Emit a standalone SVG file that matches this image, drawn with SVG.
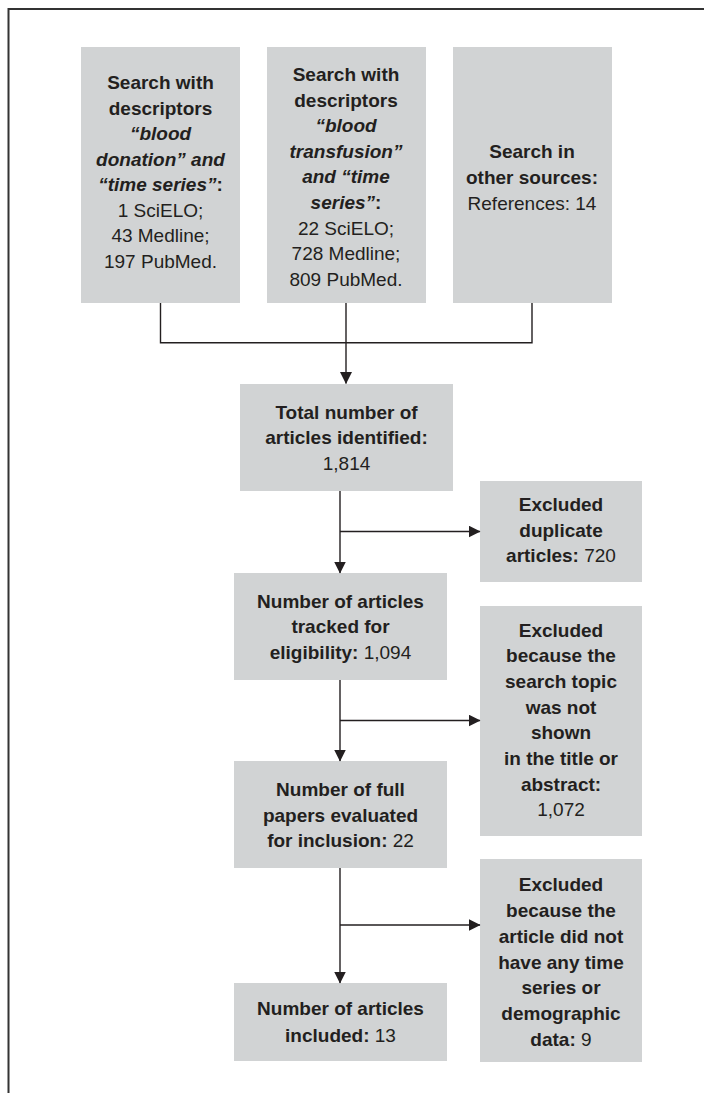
<svg xmlns="http://www.w3.org/2000/svg" width="704" height="1093" viewBox="0 0 704 1093">
<style>
.box{fill:#d1d3d4;stroke:none}
text{font-family:"Liberation Sans",Arial,sans-serif;font-size:19px;fill:#231f20;text-anchor:middle}
.b{font-weight:bold}
.bi{font-weight:bold;font-style:italic}
.r{font-weight:normal;font-style:normal}
.con{fill:none;stroke:#231f20;stroke-width:1.4}
</style>
<defs>
<marker id="arr" markerUnits="userSpaceOnUse" markerWidth="12" markerHeight="12" viewBox="0 0 12 12" refX="11.5" refY="6" orient="auto">
<path d="M0,0 L12,6 L0,12 Z" fill="#231f20"/>
</marker>
</defs>
<path d="M8.5,1093 V9 H704" fill="none" stroke="#333" stroke-width="2"/>

<g id="box1">
<rect class="box" x="81" y="47" width="159" height="256"/>
<text x="160.5" y="89" class="b">Search with</text>
<text x="160.5" y="114.5" class="b">descriptors</text>
<text x="160.5" y="140" class="bi">“blood</text>
<text x="160.5" y="165.5" class="bi">donation” and</text>
<text x="160.5" y="191" class="bi">“time series”<tspan style="font-style:normal">:</tspan></text>
<text x="160.5" y="216.5">1 SciELO;</text>
<text x="160.5" y="242">43 Medline;</text>
<text x="160.5" y="267.5">197 PubMed.</text>
</g>

<g id="box2">
<rect class="box" x="267" y="47" width="159" height="256"/>
<text x="346" y="81" class="b">Search with</text>
<text x="346" y="106.6" class="b">descriptors</text>
<text x="346" y="132.2" class="bi">“blood</text>
<text x="346" y="157.8" class="bi">transfusion”</text>
<text x="346" y="183.4" class="bi">and “time</text>
<text x="346" y="209" class="bi">series”<tspan style="font-style:normal">:</tspan></text>
<text x="346" y="234.6">22 SciELO;</text>
<text x="346" y="260.2">728 Medline;</text>
<text x="346" y="285.8">809 PubMed.</text>
</g>

<g id="box3">
<rect class="box" x="453" y="47" width="159" height="256"/>
<text x="532" y="158" class="b">Search in</text>
<text x="532" y="184" class="b">other sources:</text>
<text x="532" y="209.5">References: 14</text>
</g>

<g id="total">
<rect class="box" x="240" y="384" width="213" height="107"/>
<text x="346.5" y="418.5" class="b">Total number of</text>
<text x="346.5" y="444.3" class="b">articles identified:</text>
<text x="346.5" y="470">1,814</text>
</g>

<g id="excl-dup">
<rect class="box" x="480" y="481" width="162" height="101"/>
<text x="561" y="511" class="b">Excluded</text>
<text x="561" y="537" class="b">duplicate</text>
<text x="561" y="562"><tspan class="b">articles:</tspan> 720</text>
</g>

<g id="tracked">
<rect class="box" x="234" y="573" width="213" height="107"/>
<text x="340.5" y="607.7" class="b">Number of articles</text>
<text x="340.5" y="633.3" class="b">tracked for</text>
<text x="340.5" y="658.7"><tspan class="b">eligibility:</tspan> 1,094</text>
</g>

<g id="excl-topic">
<rect class="box" x="480" y="606" width="162" height="230"/>
<text x="561" y="636.7" class="b">Excluded</text>
<text x="561" y="662.3" class="b">because the</text>
<text x="561" y="688" class="b">search topic</text>
<text x="561" y="713.7" class="b">was not</text>
<text x="561" y="739.4" class="b">shown</text>
<text x="561" y="765" class="b">in the title or</text>
<text x="561" y="790.7" class="b">abstract:</text>
<text x="561" y="816.4">1,072</text>
</g>

<g id="full">
<rect class="box" x="234" y="761" width="213" height="107"/>
<text x="340.5" y="796" class="b">Number of full</text>
<text x="340.5" y="822" class="b">papers evaluated</text>
<text x="340.5" y="846.7"><tspan class="b">for inclusion:</tspan> 22</text>
</g>

<g id="excl-data">
<rect class="box" x="480" y="859" width="162" height="203"/>
<text x="561" y="891" class="b">Excluded</text>
<text x="561" y="917" class="b">because the</text>
<text x="561" y="942.7" class="b">article did not</text>
<text x="561" y="968.5" class="b">have any time</text>
<text x="561" y="994" class="b">series or</text>
<text x="561" y="1020" class="b">demographic</text>
<text x="561" y="1045.5"><tspan class="b">data:</tspan> 9</text>
</g>

<g id="included">
<rect class="box" x="234" y="983" width="213" height="78"/>
<text x="340.5" y="1015.3" class="b">Number of articles</text>
<text x="340.5" y="1042"><tspan class="b">included:</tspan> 13</text>
</g>

<g id="connectors">
<path class="con" d="M160.5,303 V342.7 H532 V303"/>
<path class="con" d="M346,303 V383.5" marker-end="url(#arr)"/>
<path class="con" d="M340,491 V573" marker-end="url(#arr)"/>
<path class="con" d="M340,531.5 H480" marker-end="url(#arr)"/>
<path class="con" d="M340,680 V761" marker-end="url(#arr)"/>
<path class="con" d="M340,720.5 H480" marker-end="url(#arr)"/>
<path class="con" d="M340,868 V983" marker-end="url(#arr)"/>
<path class="con" d="M340,925 H480" marker-end="url(#arr)"/>
</g>
</svg>
